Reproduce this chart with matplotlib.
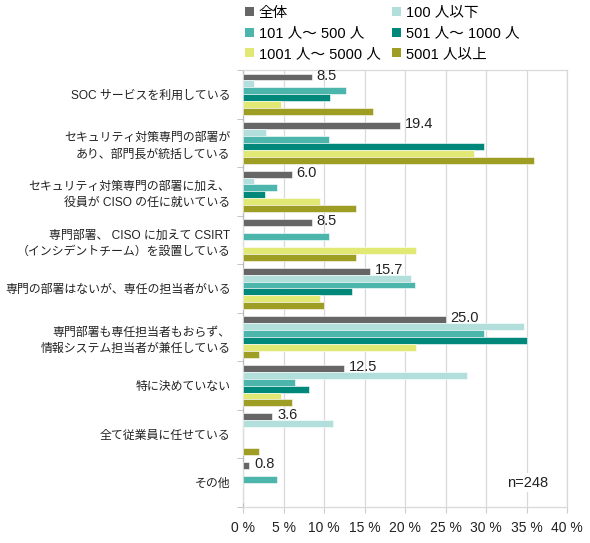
import matplotlib
matplotlib.use("Agg")
import matplotlib.pyplot as plt
import numpy as np
from matplotlib.patches import Patch

plt.rcParams['font.family'] = ['Liberation Sans', 'Noto Sans CJK JP', 'DejaVu Sans']

categories = [
    "SOC サービスを利用している",
    "セキュリティ対策専門の部署が\nあり、部門長が統括している",
    "セキュリティ対策専門の部署に加え、\n役員が CISO の任に就いている",
    "専門部署、 CISO に加えて CSIRT\n（インシデントチーム）を設置している",
    "専門の部署はないが、専任の担当者がいる",
    "専門部署も専任担当者もおらず、\n情報システム担当者が兼任している",
    "特に決めていない",
    "全て従業員に任せている",
    "その他",
]
series_names = ["全体", "100 人以下", "101 人～ 500 人", "501 人～ 1000 人", "1001 人～ 5000 人", "5001 人以上"]
total = [8.5, 19.4, 6.0, 8.5, 15.7, 25.0, 12.5, 3.6, 0.8]
s100 = [1.4, 2.8, 1.4, 0.0, 20.8, 34.7, 27.7, 11.1, 0.0]
s500 = [12.7, 10.6, 4.2, 10.6, 21.2, 29.7, 6.4, 0.0, 4.2]
s1000 = [10.8, 29.7, 2.7, 0.0, 13.5, 35.1, 8.1, 0.0, 0.0]
s5000 = [4.7, 28.5, 9.5, 21.4, 9.5, 21.4, 4.7, 0.0, 0.0]
s5001 = [16.0, 35.9, 14.0, 14.0, 10.0, 2.0, 6.0, 2.0, 0.0]
colors = ["#666666", "#b2dfdb", "#4db6ac", "#00897b", "#e1e873", "#9e9d24"]
xticks = [0, 5, 10, 15, 20, 25, 30, 35, 40]

data = [total, s100, s500, s1000, s5000, s5001]

fig = plt.figure(figsize=(5.9, 5.43), dpi=100)
ax = fig.add_axes([243/590, 1-507/543, (567-243)/590, (507-70)/543])

n = len(categories)
bh = 0.142
centers = np.arange(n)
for i, (vals, c) in enumerate(zip(data, colors)):
    y = centers + (i - 2.5) * bh
    ax.barh(y, vals, height=bh, color=c, edgecolor='white', linewidth=0.4, zorder=3)
    if i == 0:
        for yy, v in zip(y, vals):
            ax.text(v + 0.6, yy - 0.03, f"{v:.1f}", va='center', ha='left',
                    fontsize=10.5, color='#222222', zorder=4)

ax.set_ylim(n - 0.5, -0.5)
ax.set_xlim(0, 40)
ax.set_xticks(xticks)
ax.set_xticklabels([f"{t} %" for t in xticks], fontsize=10, color='#222222')
ax.set_yticks(centers)
ax.set_yticklabels(categories, fontsize=8.6, color='#222222', linespacing=1.45)
ax.tick_params(axis='y', which='major', length=0, pad=9)
ax.set_yticks(np.arange(n + 1) - 0.5, minor=True)
ax.tick_params(axis='y', which='minor', length=4, color='#bbbbbb')
ax.tick_params(axis='x', length=4, color='#cccccc', pad=6)
ax.grid(axis='x', color='#d9d9d9', linewidth=0.9, zorder=0)
for s in ax.spines.values():
    s.set_color('#d9d9d9')
    s.set_linewidth(0.9)
ax.spines['left'].set_color('#bbbbbb')

ax.text(35.1, 8.0, "n=248", ha='center', va='center', fontsize=10.5, color='#222222',
        bbox=dict(facecolor='white', edgecolor='none', pad=2), zorder=5)

order = [0, 2, 4, 1, 3, 5]
handles = [Patch(facecolor=colors[k], edgecolor='none') for k in order]
labels = [series_names[k] for k in order]
fig.legend(handles, labels, ncol=2, loc='upper left', bbox_to_anchor=(236/590, 1.0 + 3/543),
           frameon=False, fontsize=10.5, handlelength=0.6, handleheight=0.6,
           handletextpad=0.35, columnspacing=0.8, labelspacing=0.45, borderaxespad=0.2)

fig.savefig("out.png", dpi=100, facecolor='white')
